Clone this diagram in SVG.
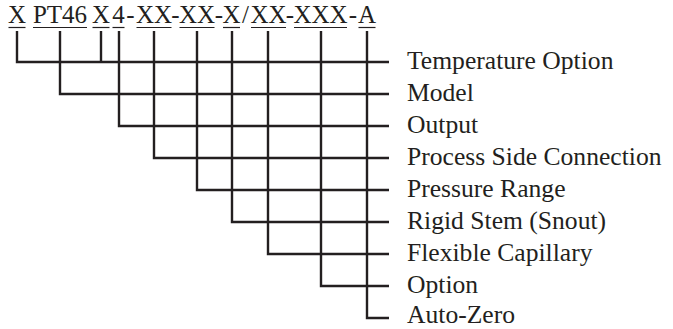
<svg xmlns="http://www.w3.org/2000/svg" width="673" height="329" viewBox="0 0 673 329">
<style>
.t{font-family:"Liberation Serif","Times New Roman",serif;font-size:25px;fill:#231f20}
.l{font-size:25.6px}
.c{fill:none;stroke:#231f20;stroke-width:2.4;stroke-linejoin:miter}
.u{stroke:#231f20;stroke-width:1.2}
</style>
<rect width="673" height="329" fill="#ffffff"/>
<g id="code">
<text class="t" y="23" text-anchor="middle"><tspan x="17">X</tspan><tspan x="60">PT46</tspan><tspan x="101">X</tspan><tspan x="118.5">4</tspan><tspan x="130.3">-</tspan><tspan x="154">XX</tspan><tspan x="175.5">-</tspan><tspan x="197">XX</tspan><tspan x="218.8">-</tspan><tspan x="231.5">X</tspan><tspan x="245.5">/</tspan><tspan x="268.5">XX</tspan><tspan x="290">-</tspan><tspan x="320.5">XXX</tspan><tspan x="352.8">-</tspan><tspan x="367">A</tspan></text>
<g class="u">
<line x1="8.5" y1="27.5" x2="25.5" y2="27.5"/>
<line x1="33" y1="27.5" x2="87" y2="27.5"/>
<line x1="92.5" y1="27.5" x2="109.5" y2="27.5"/>
<line x1="112.5" y1="27.5" x2="124.5" y2="27.5"/>
<line x1="136.5" y1="27.5" x2="171.5" y2="27.5"/>
<line x1="179.5" y1="27.5" x2="214.5" y2="27.5"/>
<line x1="223" y1="27.5" x2="240" y2="27.5"/>
<line x1="251" y1="27.5" x2="286" y2="27.5"/>
<line x1="294" y1="27.5" x2="347" y2="27.5"/>
<line x1="358.5" y1="27.5" x2="375.5" y2="27.5"/>
</g>
</g>
<g id="connectors">
<path class="c" d="M17 31V62H389"/>
<path class="c" d="M101 31V62"/>
<path class="c" d="M60 31V94H389"/>
<path class="c" d="M119 31V126H389"/>
<path class="c" d="M154 31V158H389"/>
<path class="c" d="M197 31V190H389"/>
<path class="c" d="M232 31V222H389"/>
<path class="c" d="M268 31V254H389"/>
<path class="c" d="M321 31V286H389"/>
<path class="c" d="M367 31V318H389"/>
</g>
<g id="temperature-option"><text class="t l" x="407" y="69">Temperature Option</text></g>
<g id="model"><text class="t l" x="407" y="101">Model</text></g>
<g id="output"><text class="t l" x="407" y="133">Output</text></g>
<g id="process-side-connection"><text class="t l" x="407" y="165">Process Side Connection</text></g>
<g id="pressure-range"><text class="t l" x="407" y="197">Pressure Range</text></g>
<g id="rigid-stem"><text class="t l" x="407" y="229">Rigid Stem (Snout)</text></g>
<g id="flexible-capillary"><text class="t l" x="407" y="261">Flexible Capillary</text></g>
<g id="option"><text class="t l" x="407" y="293">Option</text></g>
<g id="auto-zero"><text class="t l" x="407" y="322.5">Auto-Zero</text></g>
</svg>
